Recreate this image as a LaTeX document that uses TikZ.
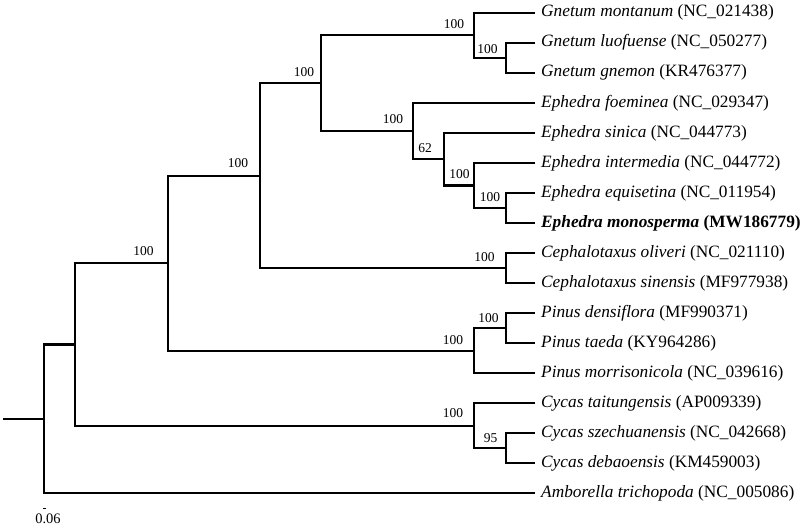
\documentclass[tikz,border=0pt]{standalone}
\usepackage{fontspec}
\setmainfont{Liberation Serif}
\usetikzlibrary{positioning}

\newcommand{\taxon}[2]{\textit{#1} (#2)}

\tikzset{
	branch/.style={line width=2.2pt},
	tiplabel/.style={anchor=west, inner sep=0pt, xshift=6pt, font=\fontsize{17.3}{19}\selectfont},
	boot/.style={inner sep=0pt, font=\fontsize{13.5}{15}\selectfont}
}

\begin{document}
\begin{tikzpicture}[x=1pt, y=-1pt]
	\useasboundingbox (0,0) rectangle (800,527);

	% tips
	\foreach \i in {1,...,17}
		\coordinate (t\i) at (535, {12.7+30.04*(\i-1)});

	% internal nodes
	\coordinate (nGl) at (506, 57.7);
	\coordinate (nGn) at (474, 35.2);
	\coordinate (nE4) at (506, 208.0);
	\coordinate (nE3) at (474, 185.4);
	\coordinate (nE2) at (444, 159.2);
	\coordinate (nE1) at (413, 131.0);
	\coordinate (nGt) at (321, 83.1);
	\coordinate (nCe) at (506, 268.0);
	\coordinate (nGC) at (260, 175.6);
	\coordinate (nPi2) at (506, 328.1);
	\coordinate (nPi) at (474, 350.6);
	\coordinate (nCon) at (168, 263.1);
	\coordinate (nCy2) at (506, 448.3);
	\coordinate (nCy) at (474, 425.8);
	\coordinate (nGym) at (75, 344.4);
	\coordinate (root) at (44, 418.9);
	\coordinate (base) at (3, 418.9);

	% branches
	\foreach \p/\c in {nGn/t1, nGn/nGl, nGl/t2, nGl/t3,
		nE1/t4, nE1/nE2, nE2/t5, nE2/nE3, nE3/t6, nE3/nE4, nE4/t7, nE4/t8,
		nGt/nGn, nGt/nE1, nCe/t9, nCe/t10, nGC/nGt, nGC/nCe,
		nPi2/t11, nPi2/t12, nPi/nPi2, nPi/t13, nCon/nGC, nCon/nPi,
		nCy2/t15, nCy2/t16, nCy/t14, nCy/nCy2, nGym/nCon, nGym/nCy,
		root/nGym, root/t17}
		\draw[branch] (\p) |- (\c);
	\draw[branch] (base) -- (root);

	% taxa
	\node[tiplabel] (l1) at (t1) {\taxon{Gnetum montanum}{NC\_021438}};
	\node[tiplabel] (l2) at (t2) {\taxon{Gnetum luofuense}{NC\_050277}};
	\node[tiplabel] (l3) at (t3) {\taxon{Gnetum gnemon}{KR476377}};
	\node[tiplabel] (l4) at (t4) {\taxon{Ephedra foeminea}{NC\_029347}};
	\node[tiplabel] (l5) at (t5) {\taxon{Ephedra sinica}{NC\_044773}};
	\node[tiplabel] (l6) at (t6) {\taxon{Ephedra intermedia}{NC\_044772}};
	\node[tiplabel] (l7) at (t7) {\taxon{Ephedra equisetina}{NC\_011954}};
	\node[tiplabel] (l8) at (t8) {\bfseries\taxon{Ephedra monosperma}{MW186779}};
	\node[tiplabel] (l9) at (t9) {\taxon{Cephalotaxus oliveri}{NC\_021110}};
	\node[tiplabel] (l10) at (t10) {\taxon{Cephalotaxus sinensis}{MF977938}};
	\node[tiplabel] (l11) at (t11) {\taxon{Pinus densiflora}{MF990371}};
	\node[tiplabel] (l12) at (t12) {\taxon{Pinus taeda}{KY964286}};
	\node[tiplabel] (l13) at (t13) {\taxon{Pinus morrisonicola}{NC\_039616}};
	\node[tiplabel] (l14) at (t14) {\taxon{Cycas taitungensis}{AP009339}};
	\node[tiplabel] (l15) at (t15) {\taxon{Cycas szechuanensis}{NC\_042668}};
	\node[tiplabel] (l16) at (t16) {\taxon{Cycas debaoensis}{KM459003}};
	\node[tiplabel] (l17) at (t17) {\taxon{Amborella trichopoda}{NC\_005086}};

	% support values
	\node[boot] (bGn) at (454, 24.5) {100};
	\node[boot] (bGl) at (487.5, 49) {100};
	\node[boot] (bGt) at (304, 72.5) {100};
	\node[boot] (bE1) at (393, 119.5) {100};
	\node[boot] (bE2) at (425, 148.5) {62};
	\node[boot] (bE3) at (459.5, 174.5) {100};
	\node[boot] (bE4) at (490, 197) {100};
	\node[boot] (bGC) at (238, 163.5) {100};
	\node[boot] (bCon) at (143.5, 251) {100};
	\node[boot] (bCe) at (484.5, 257.5) {100};
	\node[boot] (bPi2) at (488.5, 318.5) {100};
	\node[boot] (bPi) at (453, 340) {100};
	\node[boot] (bCy) at (453, 413) {100};
	\node[boot] (bCy2) at (490.5, 438.5) {95};

	% scale bar
	\coordinate (sb1) at (43, 508);
	\coordinate (sb2) at (46, 508);
	\draw[line width=0.6pt] (sb1) -- (sb2);
	\node[boot, font=\fontsize{14.5}{16}\selectfont] (sbl) at (48, 519) {0.06};
\end{tikzpicture}
\end{document}
